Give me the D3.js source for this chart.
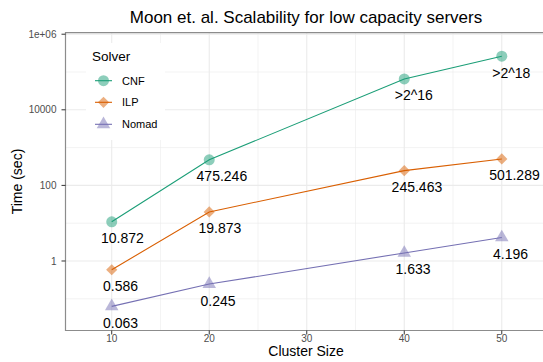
<!DOCTYPE html>
<html>
<head>
<meta charset="utf-8">
<script src="https://cdn.jsdelivr.net/npm/d3@7"></script>
<style>
  html, body { margin: 0; padding: 0; background: #fff; }
  svg { display: block; font-family: "Liberation Sans", Arial, sans-serif; }
</style>
</head>
<body>
<svg id="chart" width="543" height="362"></svg>
<script>
// Cluster sizes on the x axis
const clusterSizes = [10, 20, 40, 50];
// Solver run times (seconds)
const cnfTimes   = [10.872, 475.246, 65536, 262144];
const ilpTimes   = [0.586, 19.873, 245.463, 501.289];
const nomadTimes = [0.063, 0.245, 1.633, 4.196];
// Text printed next to each point
const cnfLabels   = ["10.872", "475.246", ">2^16", ">2^18"];
const ilpLabels   = ["0.586", "19.873", "245.463", "501.289"];
const nomadLabels = ["0.063", "0.245", "1.633", "4.196"];
// Axis ticks
const xTicks = [10, 20, 30, 40, 50];
const xMinorTicks = [15, 25, 35, 45];
const yTicks = [1, 100, 10000, 1000000];
const yTickLabels = ["1", "100", "10000", "1e+06"];
const yMinorTicks = [0.1, 10, 1000, 100000];
const solverNames = ["CNF", "ILP", "Nomad"];
const solverColors = ["#1B9E77", "#D95F02", "#7570B3"];

const series = solverNames.map((name, i) => ({
  name,
  color: solverColors[i],
  values: [cnfTimes, ilpTimes, nomadTimes][i],
  labels: [cnfLabels, ilpLabels, nomadLabels][i],
  shape: ["circle", "diamond", "triangle"][i]
}));

const svg = d3.select("#chart");
const panel = { left: 65.5, right: 548, top: 32.7, bottom: 330.5 };

const x = d3.scaleLinear().domain([5.26, 54.74]).range([panel.left, panel.right]);
const y = d3.scaleLog().domain([Math.pow(10, -1.839), Math.pow(10, 6.04)]).range([panel.bottom, panel.top]);

function symbolPath(shape) {
  if (shape === "circle") return d3.symbol(d3.symbolCircle, Math.PI * 5.5 * 5.5)();
  if (shape === "triangle") return d3.symbol(d3.symbolTriangle, Math.sqrt(3) / 4 * 13.5 * 13.5)();
  // filled diamond: a square turned on its corner
  const h = 5.6;
  return `M0,${-h}L${h},0L0,${h}L${-h},0Z`;
}

// Grid
const grid = svg.append("g");
grid.selectAll("line.ymin").data(yMinorTicks).join("line")
  .attr("x1", panel.left).attr("x2", panel.right)
  .attr("y1", d => y(d)).attr("y2", d => y(d))
  .attr("stroke", "#EBEBEB").attr("stroke-width", 0.6);
grid.selectAll("line.xmin").data(xMinorTicks).join("line")
  .attr("x1", d => x(d)).attr("x2", d => x(d))
  .attr("y1", panel.top).attr("y2", panel.bottom)
  .attr("stroke", "#EBEBEB").attr("stroke-width", 0.6);
grid.selectAll("line.ymaj").data(yTicks).join("line")
  .attr("x1", panel.left).attr("x2", panel.right)
  .attr("y1", d => y(d)).attr("y2", d => y(d))
  .attr("stroke", "#EBEBEB").attr("stroke-width", 1.1);
grid.selectAll("line.xmaj").data(xTicks).join("line")
  .attr("x1", d => x(d)).attr("x2", d => x(d))
  .attr("y1", panel.top).attr("y2", panel.bottom)
  .attr("stroke", "#EBEBEB").attr("stroke-width", 1.1);

// Lines and points
const line = d3.line().x((d, i) => x(clusterSizes[i])).y(d => y(d));
const marks = svg.append("g");
series.forEach(s => {
  marks.append("path").datum(s.values)
    .attr("d", line).attr("fill", "none")
    .attr("stroke", s.color).attr("stroke-width", 1.1);
  marks.selectAll(null).data(s.values).join("path")
    .attr("transform", (d, i) => `translate(${x(clusterSizes[i])},${y(d)})`)
    .attr("d", symbolPath(s.shape))
    .attr("fill", s.color).attr("fill-opacity", 0.5);
});

// Value labels under each point
series.forEach(s => {
  marks.selectAll(null).data(s.values).join("text")
    .text((d, i) => s.labels[i])
    .attr("font-size", 14).attr("fill", "#000")
    .attr("y", d => y(d) + 21.5)
    .each(function (d, i) {
      const w = this.getComputedTextLength();
      d3.select(this).attr("x", x(clusterSizes[i]) - 0.25 * w);
    });
});

// Panel border (left, top, bottom)
svg.append("path")
  .attr("d", `M${panel.right},${panel.top}H${panel.left}V${panel.bottom}H${panel.right}`)
  .attr("fill", "none").attr("stroke", "#8C8C8C").attr("stroke-width", 1.2);

// Y axis ticks and labels
const yAxis = svg.append("g");
yAxis.selectAll("line").data(yTicks).join("line")
  .attr("x1", panel.left - 4).attr("x2", panel.left)
  .attr("y1", d => y(d)).attr("y2", d => y(d))
  .attr("stroke", "#333").attr("stroke-width", 1);
yAxis.selectAll("text").data(yTicks).join("text")
  .attr("x", panel.left - 9).attr("y", d => y(d) + 3.6)
  .attr("text-anchor", "end").attr("font-size", 10).attr("fill", "#4D4D4D")
  .text((d, i) => yTickLabels[i]);

// X axis ticks and labels
const xAxis = svg.append("g");
xAxis.selectAll("line").data(xTicks).join("line")
  .attr("x1", d => x(d)).attr("x2", d => x(d))
  .attr("y1", panel.bottom).attr("y2", panel.bottom + 4)
  .attr("stroke", "#333").attr("stroke-width", 1);
xAxis.selectAll("text").data(xTicks).join("text")
  .attr("x", d => x(d)).attr("y", panel.bottom + 11)
  .attr("text-anchor", "middle").attr("font-size", 10).attr("fill", "#4D4D4D")
  .text(d => d);

// Titles
svg.append("text").attr("x", 306).attr("y", 23)
  .attr("text-anchor", "middle").attr("font-size", 17).attr("fill", "#000")
  .text("Moon et. al. Scalability for low capacity servers");
svg.append("text").attr("x", 306).attr("y", 355.5)
  .attr("text-anchor", "middle").attr("font-size", 14).attr("fill", "#000")
  .text("Cluster Size");
svg.append("text").attr("transform", "translate(21.5,181.5) rotate(-90)")
  .attr("text-anchor", "middle").attr("font-size", 14).attr("fill", "#000")
  .text("Time (sec)");

// Legend
const legend = svg.append("g");
legend.append("rect").attr("x", 86).attr("y", 43).attr("width", 79).attr("height", 97)
  .attr("fill", "#fff");
legend.append("text").attr("x", 92).attr("y", 61)
  .attr("font-size", 13.5).attr("fill", "#000").text("Solver");
const rowY = [80.7, 102.3, 124.3];
series.forEach((s, i) => {
  const g = legend.append("g").attr("transform", `translate(0,${rowY[i]})`);
  g.append("line").attr("x1", 95).attr("x2", 112).attr("y1", 0).attr("y2", 0)
    .attr("stroke", s.color).attr("stroke-width", 1.1);
  g.append("path").attr("transform", "translate(103.5,0)")
    .attr("d", symbolPath(s.shape)).attr("fill", s.color).attr("fill-opacity", 0.5);
  g.append("text").attr("x", 122).attr("y", 4)
    .attr("font-size", 11).attr("fill", "#000").text(s.name);
});
</script>
</body>
</html>
